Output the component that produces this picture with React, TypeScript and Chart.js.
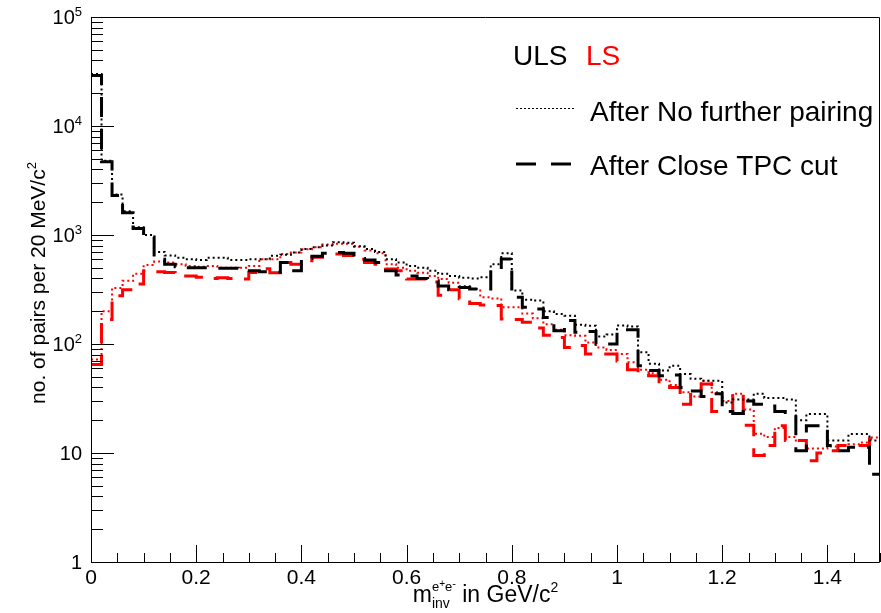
import React, { useEffect, useRef } from "react";
import { Chart, registerables } from "chart.js";

Chart.register(...registerables);

// ---------------- data ----------------
const BIN_WIDTH = 0.02; // 20 MeV/c^2 bins
const X_MIN = 0;
const X_MAX = 1.5;
const Y_MIN = 1;
const Y_MAX = 1e5;

// ULS, After No further pairing (black dotted)
const ulsNoFurther = [
  30000, 4800, 2350, 1650, 1180, 1000, 700, 650, 620, 600,
  590, 620, 620, 590, 590, 600, 600, 646, 660, 690,
  743, 770, 800, 856, 850, 790, 743, 700, 600, 560,
  520, 500, 470, 440, 420, 405, 400, 410, 540, 680,
  310, 255, 250, 200, 188, 182, 150, 147, 117, 122,
  148, 145, 84, 66, 57, 63, 53, 48, 46, 46,
  29, 31, 31, 35, 32, 32, 31, 20, 22.8, 22.8,
  13, 13, 14.9, 14.9, 13,
];

// ULS, After Close TPC cut (black dashed)
const ulsCloseTPC = [
  29000, 4700, 2300, 1600, 1150, 960, 600, 540, 510, 500,
  500, 500, 495, 495, 470, 470, 460, 455, 560, 470,
  610, 640, 680, 690, 680, 610, 590, 560, 470, 430,
  420, 400, 380, 340, 315, 330, 320, 320, 487, 603,
  268, 217, 210, 175, 132, 164, 128, 130, 100, 100,
  135, 135, 63, 57, 51, 52, 40, 37, 33, 35,
  24, 23, 30, 28, 27, 24, 23.5, 10.5, 17.8, 17.8,
  11.7, 10.5, 11.3, 11.3, 6.4,
];

// LS, After No further pairing (red dotted)
const lsNoFurther = [
  72, 200, 327, 380, 440, 530, 570, 560, 540, 520,
  510, 520, 500, 500, 500, 520, 600, 600, 670, 690,
  740, 770, 820, 830, 830, 780, 720, 680, 540, 500,
  470, 450, 420, 394, 365, 340, 320, 268, 262, 217,
  217, 190, 172, 152, 135, 120, 119, 103, 93, 88,
  81, 68, 58, 54, 47, 42, 36, 33, 46, 36,
  30, 35, 25, 15, 14, 17, 14, 13, 11, 11,
  11.5, 11.7, 12, 12.5, 13.9,
];

// LS, After Close TPC cut (red dashed)
const lsCloseTPC = [
  65, 168, 277, 315, 355, 470, 460, 454, 444, 420,
  410, 400, 405, 400, 395, 454, 490, 450, 560, 540,
  580, 624, 670, 670, 650, 600, 560, 540, 487, 470,
  394, 394, 370, 280, 315, 260, 235, 228, 225, 170,
  168, 158, 140, 120, 115, 93, 97, 81, 81, 81,
  70, 58, 53, 51, 45, 40, 28, 38, 43, 24,
  24, 35, 18, 9.5, 11.7, 17.8, 13, 13, 8.5, 10,
  10.5, 11.7, 11.7, 11.7, 13.5,
];

const xMajorTicks = [0, 0.2, 0.4, 0.6, 0.8, 1.0, 1.2, 1.4];
const xTickLabels = ["0", "0.2", "0.4", "0.6", "0.8", "1", "1.2", "1.4"];
const xMinorStep = 0.05;
const yDecadeExponents = [0, 1, 2, 3, 4, 5];

const legendHeader = [
  { text: "ULS", color: "#000000" },
  { text: "LS", color: "#ff0000" },
];
const legendEntries = [
  { text: "After No further pairing", style: "dotted" },
  { text: "After Close TPC cut", style: "dashed" },
];

// ---------------- helpers ----------------
const FONT = '"Liberation Sans", Arial, Helvetica, sans-serif';
const DOT_DASH = [2, 3];
const LONG_DASH = [20, 12];

function histPoints(values: number[]) {
  const pts = values.map((v, i) => ({ x: +(i * BIN_WIDTH).toFixed(4), y: v }));
  pts.push({ x: +(values.length * BIN_WIDTH).toFixed(4), y: values[values.length - 1] });
  return pts;
}

type Part = { t: string; size: number; dy?: number };

function measure(ctx: CanvasRenderingContext2D, parts: Part[]) {
  let w = 0;
  for (const p of parts) {
    ctx.font = `${p.size}px ${FONT}`;
    w += ctx.measureText(p.t).width;
  }
  return w;
}

function drawSeq(ctx: CanvasRenderingContext2D, parts: Part[], x: number, y: number) {
  let cx = x;
  ctx.textAlign = "left";
  ctx.textBaseline = "alphabetic";
  for (const p of parts) {
    ctx.font = `${p.size}px ${FONT}`;
    ctx.fillText(p.t, cx, y + (p.dy || 0));
    cx += ctx.measureText(p.t).width;
  }
  return cx;
}

function drawRich(
  ctx: CanvasRenderingContext2D,
  parts: Part[],
  x: number,
  y: number,
  align: "left" | "center" | "right"
) {
  const total = measure(ctx, parts);
  const sx = align === "left" ? x : align === "center" ? x - total / 2 : x - total;
  drawSeq(ctx, parts, sx, y);
}

const rootStylePlugin = {
  id: "rootStyle",
  afterDraw(chart: any) {
    const { ctx, chartArea: a, scales } = chart;
    const xs = scales.x;
    const ys = scales.y;
    ctx.save();

    // frame
    ctx.strokeStyle = "#000";
    ctx.lineWidth = 1;
    ctx.setLineDash([]);
    ctx.beginPath();
    ctx.moveTo(a.left + 0.5, a.top + 0.5);
    ctx.lineTo(a.right - 0.5, a.top + 0.5);
    ctx.lineTo(a.right - 0.5, a.bottom + 0.5);
    ctx.lineTo(a.left + 0.5, a.bottom + 0.5);
    ctx.closePath();
    ctx.stroke();

    // x ticks (inside, upward)
    ctx.beginPath();
    const nMinor = Math.round((X_MAX - X_MIN) / xMinorStep);
    for (let k = 0; k <= nMinor; k++) {
      const v = X_MIN + k * xMinorStep;
      const isMajor = xMajorTicks.some((m) => Math.abs(m - v) < 1e-6);
      const px = Math.round(xs.getPixelForValue(v)) + 0.5;
      const len = isMajor ? 17 : 9;
      ctx.moveTo(px, a.bottom);
      ctx.lineTo(px, a.bottom - len);
    }
    // y ticks (inside, rightward)
    for (const e of yDecadeExponents) {
      const base = Math.pow(10, e);
      for (let m = 1; m <= 9; m++) {
        const v = m * base;
        if (v > Y_MAX * 1.0001) break;
        const py = Math.round(ys.getPixelForValue(v)) + 0.5;
        const len = m === 1 ? 23 : 12;
        ctx.moveTo(a.left, py);
        ctx.lineTo(a.left + len, py);
      }
    }
    ctx.stroke();

    // x tick labels
    ctx.fillStyle = "#000";
    ctx.font = `21px ${FONT}`;
    ctx.textAlign = "center";
    ctx.textBaseline = "alphabetic";
    xMajorTicks.forEach((v, i) => {
      ctx.fillText(xTickLabels[i], xs.getPixelForValue(v), a.bottom + 22);
    });

    // y tick labels
    for (const e of yDecadeExponents) {
      const py = ys.getPixelForValue(Math.pow(10, e));
      const parts: Part[] =
        e === 0
          ? [{ t: "1", size: 20 }]
          : e === 1
          ? [{ t: "10", size: 20 }]
          : [
              { t: "10", size: 20 },
              { t: String(e), size: 13, dy: -8 },
            ];
      drawRich(ctx, parts, 82, py + 7, "right");
    }

    // y axis title (rotated)
    ctx.save();
    ctx.translate(45, 283);
    ctx.rotate(-Math.PI / 2);
    drawRich(
      ctx,
      [
        { t: "no. of pairs per 20 MeV/c", size: 21 },
        { t: "2", size: 13, dy: -9 },
      ],
      0,
      0,
      "center"
    );
    ctx.restore();

    // x axis title: m_{inv}^{e+e-} in GeV/c^2
    {
      const base = a.bottom + 40;
      const mPart: Part[] = [{ t: "m", size: 23 }];
      const subPart: Part[] = [{ t: "inv", size: 14, dy: 6 }];
      const supPart: Part[] = [
        { t: "e", size: 13, dy: -11 },
        { t: "+", size: 10, dy: -15 },
        { t: "e", size: 13, dy: -11 },
        { t: "-", size: 11, dy: -15 },
      ];
      const tailPart: Part[] = [
        { t: " in GeV/c", size: 23 },
        { t: "2", size: 14, dy: -10 },
      ];
      const wm = measure(ctx, mPart);
      const wss = Math.max(measure(ctx, subPart), measure(ctx, supPart));
      const wt = measure(ctx, tailPart);
      const total = wm + wss + wt;
      const x0 = (a.left + a.right) / 2 - total / 2;
      drawSeq(ctx, mPart, x0, base);
      drawSeq(ctx, subPart, x0 + wm, base);
      drawSeq(ctx, supPart, x0 + wm, base);
      drawSeq(ctx, tailPart, x0 + wm + wss, base);
    }

    // legend header
    ctx.font = `28px ${FONT}`;
    ctx.textAlign = "left";
    ctx.fillStyle = legendHeader[0].color;
    ctx.fillText(legendHeader[0].text, 513, 65);
    ctx.fillStyle = legendHeader[1].color;
    ctx.fillText(legendHeader[1].text, 586, 65);

    // legend entries
    const rows = [121, 175];
    legendEntries.forEach((en, i) => {
      const ty = rows[i];
      ctx.fillStyle = "#000";
      ctx.font = `28px ${FONT}`;
      ctx.fillText(en.text, 590, ty);
      ctx.beginPath();
      ctx.strokeStyle = "#000";
      if (en.style === "dotted") {
        ctx.lineWidth = 1;
        ctx.setLineDash([2, 2]);
        ctx.moveTo(516, ty - 12.5);
        ctx.lineTo(574, ty - 12.5);
      } else {
        ctx.lineWidth = 3;
        ctx.setLineDash([20, 15]);
        ctx.moveTo(516, ty - 11);
        ctx.lineTo(575, ty - 11);
      }
      ctx.stroke();
    });
    ctx.setLineDash([]);
    ctx.restore();
  },
};

export default function App() {
  const ref = useRef<HTMLCanvasElement | null>(null);

  useEffect(() => {
    document.body.style.margin = "0";
    document.body.style.background = "#ffffff";
    const canvas = ref.current;
    if (!canvas) return;
    const mk = (label: string, values: number[], color: string, dashed: boolean) => ({
      label,
      data: histPoints(values),
      borderColor: color,
      backgroundColor: color,
      borderWidth: dashed ? 3 : 2,
      borderDash: dashed ? LONG_DASH : DOT_DASH,
      stepped: true as const,
      pointRadius: 0,
      fill: false,
      tension: 0,
    });
    const chart = new Chart(canvas, {
      type: "line",
      data: {
        datasets: [
          mk("ULS After No further pairing", ulsNoFurther, "#000000", false),
          mk("ULS After Close TPC cut", ulsCloseTPC, "#000000", true),
          mk("LS After No further pairing", lsNoFurther, "#ff0000", false),
          mk("LS After Close TPC cut", lsCloseTPC, "#ff0000", true),
        ],
      },
      options: {
        responsive: false,
        animation: false,
        devicePixelRatio: 1,
        layout: { padding: { top: 17, right: 1, left: 0, bottom: 0 } },
        plugins: { legend: { display: false }, tooltip: { enabled: false } },
        scales: {
          x: {
            type: "linear",
            min: X_MIN,
            max: X_MAX,
            ticks: { display: false },
            grid: { display: false },
            border: { display: false },
            afterFit: (s: any) => {
              s.height = 51;
            },
          },
          y: {
            type: "logarithmic",
            min: Y_MIN,
            max: Y_MAX,
            ticks: { display: false },
            grid: { display: false },
            border: { display: false },
            afterFit: (s: any) => {
              s.width = 91;
            },
          },
        },
      },
      plugins: [rootStylePlugin],
    } as any);
    return () => chart.destroy();
  }, []);

  return (
    <canvas
      ref={ref}
      width={881}
      height={613}
      style={{ display: "block", width: 881, height: 613 }}
    />
  );
}
